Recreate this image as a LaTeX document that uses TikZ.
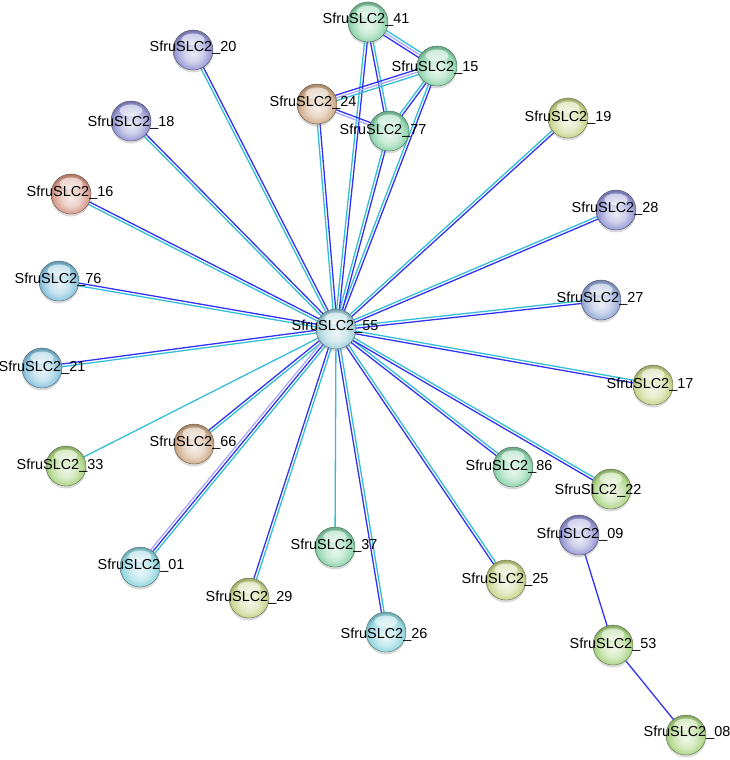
\documentclass[tikz,border=0pt]{standalone}
\usepackage{fontspec}
\setmainfont{Liberation Sans}
\usetikzlibrary{calc,backgrounds}
\definecolor{eblue}{RGB}{50,50,245}
\definecolor{ecyan}{RGB}{50,190,215}
\definecolor{epurple}{RGB}{172,168,250}
\definecolor{cyanp}{RGB}{140,212,222}
\definecolor{grayc}{RGB}{160,208,216}
\definecolor{mint}{RGB}{135,210,168}
\definecolor{tan}{RGB}{205,168,132}
\definecolor{salmon}{RGB}{212,150,132}
\definecolor{lav}{RGB}{145,145,210}
\definecolor{bluelav}{RGB}{145,165,212}
\definecolor{ltblue}{RGB}{130,192,220}
\definecolor{paleyg}{RGB}{198,210,135}
\definecolor{ltgreen}{RGB}{168,210,126}
\makeatletter
\pgfdeclareradialshading[tikz@ball]{strball}{\pgfpoint{0bp}{-5bp}}{%
 color(0bp)=(tikz@ball!18!white); color(12bp)=(tikz@ball!45!white);
 color(22bp)=(tikz@ball!90!white); color(27bp)=(tikz@ball!78!black);
 color(32bp)=(tikz@ball!58!black); color(50bp)=(tikz@ball!58!black)}
\makeatother
\tikzset{
 ball/.style={circle, minimum size=40bp, inner sep=0pt, ball color=#1, shading=strball,
   draw=#1!55!black, line width=0.4bp,
   preaction={fill=black!50, opacity=0.3, transform canvas={yshift=-2.5bp}},
   path picture={\fill[white,opacity=0.55] ([yshift=10.5bp]path picture bounding box.center) ellipse [x radius=11.5bp, y radius=6bp];}},
 lab/.style={font=\fontsize{14.5}{16}\selectfont, text=black, inner sep=0pt},
 el/.style={line width=1.3bp},
 cy/.style={el, draw=ecyan},
 bl/.style={el, draw=eblue},
 pu/.style={el, draw=epurple},
}
\newcommand\eTwo[4]{%
 \draw[#3] ($(#1)!1.35bp!90:(#2)$) -- ($(#2)!1.35bp!-90:(#1)$);
 \draw[#4] ($(#1)!1.35bp!-90:(#2)$) -- ($(#2)!1.35bp!90:(#1)$);}
\newcommand\eThree[5]{%
 \draw[#3] ($(#1)!2.7bp!90:(#2)$) -- ($(#2)!2.7bp!-90:(#1)$);
 \draw[#4] (#1.center) -- (#2.center);
 \draw[#5] ($(#1)!2.7bp!-90:(#2)$) -- ($(#2)!2.7bp!90:(#1)$);}
\begin{document}
\begin{tikzpicture}[x=1bp,y=-1bp]
\useasboundingbox (0,0) rectangle (730,760);
% balls
\node[ball=grayc]   (n55) at (336,329) {};
\node[ball=mint]    (n41) at (368,22) {};
\node[ball=mint]    (n15) at (437,66) {};
\node[ball=tan]     (n24) at (317,104) {};
\node[ball=mint]    (n77) at (389,131) {};
\node[ball=lav]     (n20) at (193,50) {};
\node[ball=lav]     (n18) at (131,121) {};
\node[ball=salmon]  (n16) at (71,194) {};
\node[ball=ltblue]  (n76) at (59,281) {};
\node[ball=ltblue]  (n21) at (42,368) {};
\node[ball=ltgreen] (n33) at (66,466) {};
\node[ball=tan]     (n66) at (194,444) {};
\node[ball=cyanp]   (n01) at (140,567) {};
\node[ball=mint]    (n37) at (335,547) {};
\node[ball=paleyg]  (n29) at (249,598) {};
\node[ball=cyanp]   (n26) at (386,632) {};
\node[ball=paleyg]  (n25) at (506,580) {};
\node[ball=mint]    (n86) at (513,467) {};
\node[ball=ltgreen] (n22) at (611,489) {};
\node[ball=lav]     (n09) at (579,535) {};
\node[ball=ltgreen] (n53) at (613,645) {};
\node[ball=ltgreen] (n08) at (686,735) {};
\node[ball=paleyg]  (n17) at (653,385) {};
\node[ball=bluelav] (n27) at (601,300) {};
\node[ball=lav]     (n28) at (616,210) {};
\node[ball=paleyg]  (n19) at (568,118) {};
% edges
\begin{pgfonlayer}{background}
\foreach \t in {n20,n18,n16,n76,n21,n66,n29,n26,n25,n86,n22,n17,n27,n28,n19,n15,n77,n41,n24}{
  \eTwo{n55}{\t}{cy}{bl}
}
\draw[cy] (n55.center) -- (n33.center);
\draw[cy] (n55.center) -- (n37.center);
\eThree{n55}{n01}{cy}{bl}{pu}
\eThree{n41}{n15}{cy}{pu}{bl}
\eTwo{n41}{n77}{cy}{bl}
\eThree{n15}{n24}{cy}{pu}{bl}
\eTwo{n15}{n77}{bl}{cy}
\eTwo{n24}{n77}{bl}{pu}
\draw[bl] (n09.center) -- (n53.center);
\draw[bl] (n53.center) -- (n08.center);
\end{pgfonlayer}
% labels
\node[lab] (t55) at (335,327) {SfruSLC2\_55};
\node[lab] (t41) at (366,20) {SfruSLC2\_41};
\node[lab] (t15) at (435,68) {SfruSLC2\_15};
\node[lab] (t24) at (313,103) {SfruSLC2\_24};
\node[lab] (t77) at (383,131) {SfruSLC2\_77};
\node[lab] (t20) at (193,48) {SfruSLC2\_20};
\node[lab] (t18) at (131,123) {SfruSLC2\_18};
\node[lab] (t16) at (70,193) {SfruSLC2\_16};
\node[lab] (t76) at (58,280) {SfruSLC2\_76};
\node[lab] (t21) at (42,368) {SfruSLC2\_21};
\node[lab] (t33) at (60,466) {SfruSLC2\_33};
\node[lab] (t66) at (193,443) {SfruSLC2\_66};
\node[lab] (t01) at (141,566) {SfruSLC2\_01};
\node[lab] (t37) at (334,546) {SfruSLC2\_37};
\node[lab] (t29) at (249,598) {SfruSLC2\_29};
\node[lab] (t26) at (384,635) {SfruSLC2\_26};
\node[lab] (t25) at (505,580) {SfruSLC2\_25};
\node[lab] (t86) at (509,467) {SfruSLC2\_86};
\node[lab] (t22) at (598,491) {SfruSLC2\_22};
\node[lab] (t09) at (580,535) {SfruSLC2\_09};
\node[lab] (t53) at (613,645) {SfruSLC2\_53};
\node[lab] (t08) at (687,733) {SfruSLC2\_08};
\node[lab] (t17) at (650,385) {SfruSLC2\_17};
\node[lab] (t27) at (600,299) {SfruSLC2\_27};
\node[lab] (t28) at (615,209) {SfruSLC2\_28};
\node[lab] (t19) at (568,118) {SfruSLC2\_19};
\end{tikzpicture}
\end{document}
